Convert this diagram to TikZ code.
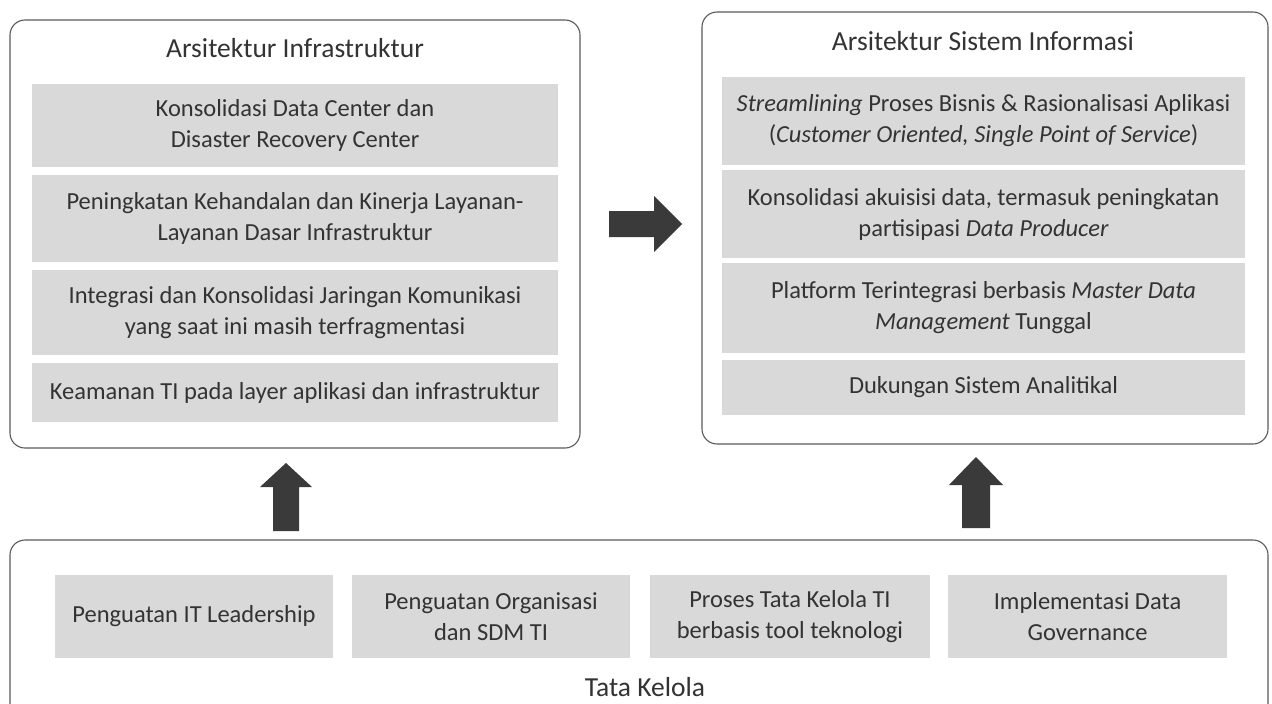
\documentclass[tikz,border=0pt]{standalone}
\usepackage{fontspec}
\setmainfont{Carlito}
\definecolor{barfill}{HTML}{D9D9D9}
\definecolor{framecol}{HTML}{5A5A5A}
\definecolor{arrowcol}{HTML}{3A3A3A}
\definecolor{txt}{HTML}{333333}
\begin{document}
\begin{tikzpicture}[x=1pt,y=-1pt,
  frame/.style={draw=framecol,line width=1.1pt,rounded corners=15pt},
  bar/.style={fill=barfill,draw=none,inner sep=0pt,align=center,text=txt,
    font=\fontsize{24.5}{31}\selectfont},
  ttl/.style={text=txt,font=\fontsize{27.5}{30}\selectfont,inner sep=0pt,anchor=base},
  fat/.style={fill=arrowcol,draw=none}]
\useasboundingbox[fill=white] (0,0) rectangle (1272,704);
% frames
\node[frame,minimum width=570pt,minimum height=428pt] (infra) at (295,234) {};
\node[frame,minimum width=566pt,minimum height=432pt] (sis) at (985,228) {};
\draw[framecol,line width=1.1pt,rounded corners=15pt] (10,710) -- (10,540) -- (1268,540) -- (1268,710);
% titles
\node[ttl] (t1) at (295,57) {Arsitektur Infrastruktur};
\node[ttl] (t2) at (983,50) {Arsitektur Sistem Informasi};
\node[ttl] (t3) at (645,696) {Tata Kelola};
% left bars
\node[bar,minimum width=526pt,minimum height=83pt] (l1) at (295,125.5) {Konsolidasi Data Center dan\\Disaster Recovery Center};
\node[bar,minimum width=526pt,minimum height=87pt] (l2) at (295,218.5) {Peningkatan Kehandalan dan Kinerja Layanan-\\Layanan Dasar Infrastruktur};
\node[bar,minimum width=526pt,minimum height=85pt] (l3) at (295,312.5) {Integrasi dan Konsolidasi Jaringan Komunikasi\\yang saat ini masih terfragmentasi};
\node[bar,minimum width=526pt,minimum height=59pt] (l4) at (295,392.5) {Keamanan TI pada layer aplikasi dan infrastruktur};
% right bars
\node[bar,minimum width=523pt,minimum height=88pt] (r1) at (983.5,121) {\textit{Streamlining} Proses Bisnis \& Rasionalisasi Aplikasi\\(\textit{Customer Oriented, Single Point of Service})};
\node[bar,minimum width=523pt,minimum height=88pt] (r2) at (983.5,214) {Konsolidasi akuisisi data, termasuk peningkatan\\partisipasi \textit{Data Producer}};
\node[bar,minimum width=523pt,minimum height=90pt] (r3) at (983.5,308) {Platform Terintegrasi berbasis \textit{Master Data}\\\textit{Management} Tunggal};
\node[bar,minimum width=523pt,minimum height=55pt] (r4) at (983.5,387.5) {Dukungan Sistem Analitikal};
% bottom bars
\node[bar,minimum width=278pt,minimum height=83pt] (b1) at (194,616.5) {Penguatan IT Leadership};
\node[bar,minimum width=278pt,minimum height=83pt] (b2) at (491,616.5) {Penguatan Organisasi\\dan SDM TI};
\node[bar,minimum width=280pt,minimum height=83pt] (b3) at (790,616.5) {Proses Tata Kelola TI\\berbasis tool teknologi};
\node[bar,minimum width=279pt,minimum height=83pt] (b4) at (1087.5,616.5) {Implementasi Data\\Governance};
% fat arrows
\fill[arrowcol] (609,211) -- (654,211) -- (654,196) -- (682,224) -- (654,252) -- (654,237) -- (609,237) -- cycle;
\fill[arrowcol] (273,531) -- (273,487) -- (260,487) -- (286,463) -- (312,487) -- (299,487) -- (299,531) -- cycle;
\fill[arrowcol] (962,528) -- (962,485) -- (949,485) -- (976,457) -- (1003,485) -- (990,485) -- (990,528) -- cycle;
\end{tikzpicture}
\end{document}
